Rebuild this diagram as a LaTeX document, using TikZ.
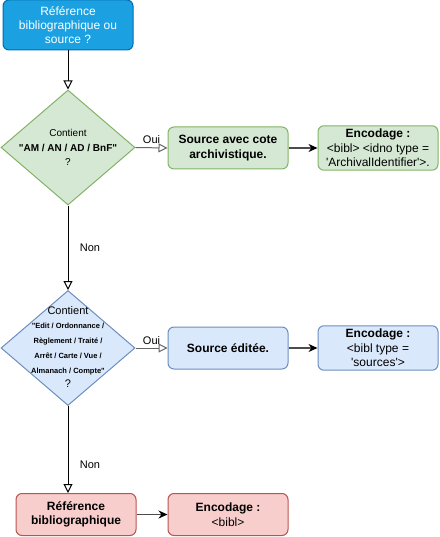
\documentclass[tikz,border=0pt]{standalone}
\usepackage{fontspec}
\setmainfont{Liberation Sans}
\usetikzlibrary{arrows.meta,shapes.geometric,positioning}
\definecolor{bleufort}{HTML}{1BA1E2}
\definecolor{bleufortbord}{HTML}{006EAF}
\definecolor{vertfond}{HTML}{D5E8D4}
\definecolor{vertbord}{HTML}{82B366}
\definecolor{bleufond}{HTML}{DAE8FC}
\definecolor{bleubord}{HTML}{6C8EBF}
\definecolor{rougefond}{HTML}{F8CECC}
\definecolor{rougebord}{HTML}{B85450}
\begin{document}
\begin{tikzpicture}[x=1pt,y=-1pt,node distance=150pt,line width=1pt]
      \tikzstyle{box}=[rectangle,draw,rounded corners=6pt,minimum width=120pt,minimum height=42pt,align=center,font=\fontsize{12}{14.5}\selectfont]
      \tikzstyle{test}=[diamond,draw,minimum width=134pt,minimum height=115pt,inner sep=0pt]
      \tikzstyle{openarrow}=[-{Triangle[open,length=9pt,width=9pt]}]
      \tikzstyle{fullarrow}=[-{Stealth[length=9pt,width=8pt,color=black]},draw=black!70,line width=1.5pt]
      \tikzstyle{lbl}=[font=\fontsize{11}{13}\selectfont]
      \useasboundingbox (0,0) rectangle (439,537);
      \node[box,fill=bleufort,draw=bleufortbord,text=white,minimum width=130pt,minimum height=50pt,font=\fontsize{12}{14}\selectfont](question) at (68,25){Référence\\bibliographique ou\\source ?};
      \node[test,fill=vertfond,draw=vertbord](test-am) at (68,147.5){};
      \node[align=center,font=\fontsize{10}{14.5}\selectfont](test-am-txt) at (test-am){Contient\\\textbf{\textquotedbl AM / AN / AD / BnF\textquotedbl}\\?};
      \node[box,fill=vertfond,draw=vertbord,font=\bfseries\fontsize{12}{14.5}\selectfont](src-cote) at (228,148){Source avec cote\\archivistique.};
      \node[box,fill=vertfond,draw=vertbord,right of=src-cote](enc-cote){\textbf{Encodage :}\\<bibl> <idno type =\\\textquotesingle ArchivalIdentifier\textquotesingle>.};
      \node[test,fill=bleufond,draw=bleubord](test-ed) at (68,348){};
      \node[align=center,font=\bfseries\fontsize{7.5}{14.7}\selectfont](test-ed-txt) at (68,347){{\mdseries\fontsize{11}{14.7}\selectfont Contient}\\\textquotedbl Edit / Ordonnance /\\Règlement / Traité /\\Arrêt / Carte / Vue /\\Almanach / Compte\textquotedbl\\{\mdseries\fontsize{11}{13}\selectfont ?}};
      \node[box,fill=bleufond,draw=bleubord,font=\bfseries\fontsize{12}{14.5}\selectfont](src-ed) at (228,348){Source éditée.};
      \node[box,fill=bleufond,draw=bleubord,right of=src-ed](enc-ed){\textbf{Encodage :}\\<bibl type =\\\textquotesingle sources\textquotesingle>};
      \node[box,fill=rougefond,draw=rougebord,font=\bfseries\fontsize{12}{14.5}\selectfont](ref-bib) at (76,514.5){Référence\\bibliographique};
      \node[box,fill=rougefond,draw=rougebord](enc-bib) at (228,514.5){\textbf{Encodage :}\\<bibl>};
      \draw[openarrow](question.south)--(test-am.north);
      \draw[openarrow,draw=black!60](test-am.east)--(src-cote.west) node[lbl,midway,above,text=black]{Oui};
      \draw[fullarrow](src-cote.east)--(enc-cote.west);
      \draw[openarrow](test-am.south)--(test-ed.north) node[lbl,midway,right=8pt]{Non};
      \draw[openarrow,draw=black!60](test-ed.east)--(src-ed.west) node[lbl,midway,above,text=black]{Oui};
      \draw[fullarrow](src-ed.east)--(enc-ed.west);
      \draw[openarrow](test-ed.south)--(test-ed.south|-ref-bib.north) node[lbl,pos=0.68,right=8pt]{Non};
      \draw[fullarrow](ref-bib.east)--(enc-bib.west);
    \end{tikzpicture}
\end{document}
